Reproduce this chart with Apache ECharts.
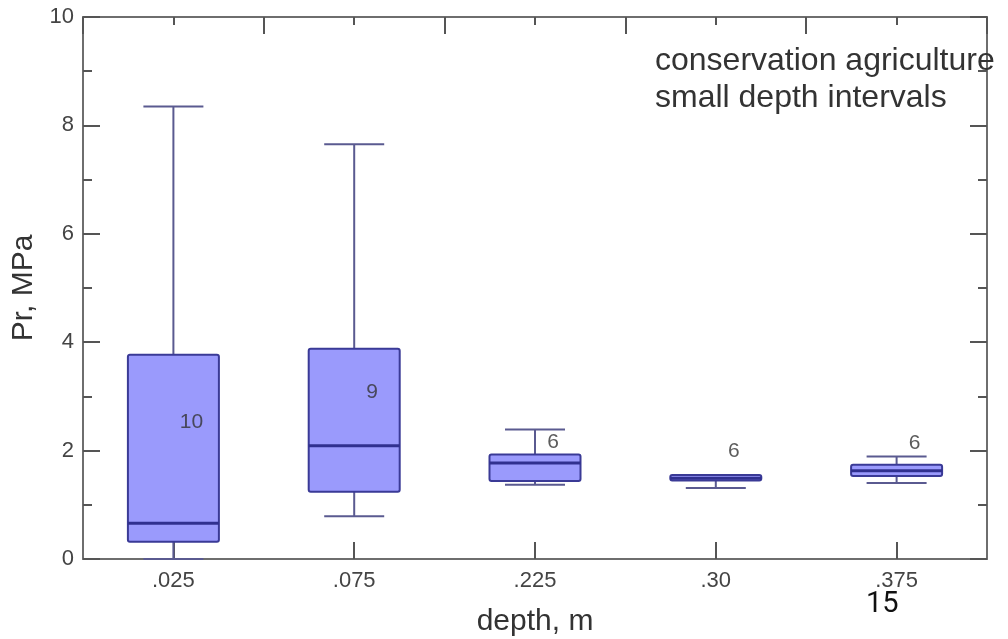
<!DOCTYPE html>
<html>
<head>
<meta charset="utf-8">
<script src="https://cdn.jsdelivr.net/npm/echarts@6/dist/echarts.min.js"></script>
<style>
  html, body { margin: 0; padding: 0; background: #fff; }
  #main { width: 1008px; height: 639px; }
</style>
</head>
<body>
<div id="main"></div>
<script>
// depth classes and box statistics
var depths = ['.025', '.075', '.225', '.30', '.375'];
var mins    = [0.00, 0.79, 1.37, 1.31, 1.40];
var q1s     = [0.32, 1.24, 1.44, 1.45, 1.53];
var medians = [0.66, 2.09, 1.77, 1.49, 1.63];
var q3s     = [3.77, 3.88, 1.93, 1.55, 1.74];
var maxs    = [8.35, 7.65, 2.39, 1.55, 1.89];
// sample counts and where they sit
var counts  = [10, 9, 6, 6, 6];
var countY  = [2.53, 3.07, 2.16, 1.98, 2.14];

var boxData = depths.map(function (d, i) {
  return [i, mins[i], q1s[i], medians[i], q3s[i], maxs[i]];
});
var countData = depths.map(function (d, i) {
  return [i, countY[i], counts[i]];
});

var chart = echarts.init(document.getElementById('main'));

function renderBox(params, api) {
  var i = api.value(0);
  var pMin = api.coord([i, api.value(1)]);
  var pQ1 = api.coord([i, api.value(2)]);
  var pMed = api.coord([i, api.value(3)]);
  var pQ3 = api.coord([i, api.value(4)]);
  var pMax = api.coord([i, api.value(5)]);
  var x = pMed[0];
  var hw = 45.5, cw = 30;
  var whisker = { stroke: '#5a5a90', lineWidth: 2 };
  return {
    type: 'group',
    children: [
      { type: 'line', shape: { x1: x, y1: pQ3[1], x2: x, y2: pMax[1] }, style: whisker },
      { type: 'line', shape: { x1: x, y1: pQ1[1], x2: x, y2: pMin[1] }, style: whisker },
      { type: 'line', shape: { x1: x - cw, y1: pMax[1], x2: x + cw, y2: pMax[1] }, style: whisker },
      { type: 'line', shape: { x1: x - cw, y1: pMin[1], x2: x + cw, y2: pMin[1] }, style: whisker },
      {
        type: 'rect',
        shape: { x: x - hw, y: pQ3[1], width: hw * 2, height: Math.max(pQ1[1] - pQ3[1], 1), r: 2 },
        style: { fill: '#9a9afc', stroke: '#3a3a96', lineWidth: 2 }
      },
      { type: 'line', shape: { x1: x - hw, y1: pMed[1], x2: x + hw, y2: pMed[1] }, style: { stroke: '#30308f', lineWidth: 3 } }
    ]
  };
}

var tickStyle = { color: '#555', width: 2 };
var frameLine = { show: true, onZero: false, lineStyle: { color: '#6e6e6e', width: 2 } };

var option = {
  backgroundColor: '#fff',
  animation: false,
  grid: { left: 83, right: 21, top: 17, bottom: 80, outerBoundsMode: 'none', containLabel: false },
  xAxis: [
    {
      type: 'category',
      data: depths,
      position: 'bottom',
      name: 'depth, m',
      nameLocation: 'middle',
      nameGap: 48,
      nameTextStyle: { fontSize: 30, color: '#333', fontFamily: 'Liberation Sans' },
      axisLine: frameLine,
      axisTick: { show: true, inside: true, alignWithLabel: true, length: 17, lineStyle: tickStyle },
      axisLabel: { fontSize: 22, color: '#444', margin: 11, fontFamily: 'Liberation Sans' },
      splitLine: { show: false }
    },
    {
      // top frame: long ticks at class boundaries, short ticks at class centres
      type: 'value',
      min: 0,
      max: 10,
      interval: 2,
      position: 'top',
      axisLine: frameLine,
      axisTick: { show: true, inside: true, length: 17, lineStyle: tickStyle },
      minorTick: { show: true, splitNumber: 2, length: 8, lineStyle: tickStyle },
      axisLabel: { show: false },
      splitLine: { show: false },
      minorSplitLine: { show: false }
    }
  ],
  yAxis: [
    {
      type: 'value',
      min: 0,
      max: 10,
      interval: 2,
      position: 'left',
      name: 'Pr, MPa',
      nameLocation: 'middle',
      nameGap: 40,
      nameTextStyle: { fontSize: 30, color: '#333', fontFamily: 'Liberation Sans' },
      axisLine: frameLine,
      axisTick: { show: true, inside: true, length: 17, lineStyle: tickStyle },
      minorTick: { show: true, splitNumber: 2, length: 9, lineStyle: tickStyle },
      axisLabel: { fontSize: 22, color: '#444', margin: 9, fontFamily: 'Liberation Sans' },
      splitLine: { show: false }
    },
    {
      type: 'value',
      min: 0,
      max: 10,
      interval: 2,
      position: 'right',
      axisLine: frameLine,
      axisTick: { show: true, inside: true, length: 17, lineStyle: tickStyle },
      minorTick: { show: true, splitNumber: 2, length: 9, lineStyle: tickStyle },
      axisLabel: { show: false },
      splitLine: { show: false }
    }
  ],
  series: [
    {
      type: 'custom',
      name: 'Pr',
      xAxisIndex: 0,
      yAxisIndex: 0,
      renderItem: renderBox,
      encode: { x: 0, y: [1, 2, 3, 4, 5] },
      data: boxData,
      z: 3
    },
    {
      type: 'scatter',
      name: 'n',
      xAxisIndex: 0,
      yAxisIndex: 0,
      symbolSize: 0,
      data: countData,
      label: {
        show: true,
        position: 'inside',
        offset: [18, 0],
        formatter: function (p) { return p.value[2]; },
        fontSize: 21,
        color: '#333',
        fontFamily: 'Liberation Sans'
      },
      z: 4
    }
  ],
  graphic: [
    {
      type: 'text',
      left: 655,
      top: 43,
      style: {
        text: 'conservation agriculture\nsmall depth intervals',
        fontSize: 32,
        lineHeight: 37,
        fill: '#333',
        fontFamily: 'Liberation Sans'
      },
      z: 10
    },
    {
      type: 'text',
      left: 866,
      top: 590,
      style: { text: '15', fontSize: 29, fill: '#111', fontFamily: 'Roboto' },
      z: 10
    }
  ]
};

chart.setOption(option);
</script>
</body>
</html>
